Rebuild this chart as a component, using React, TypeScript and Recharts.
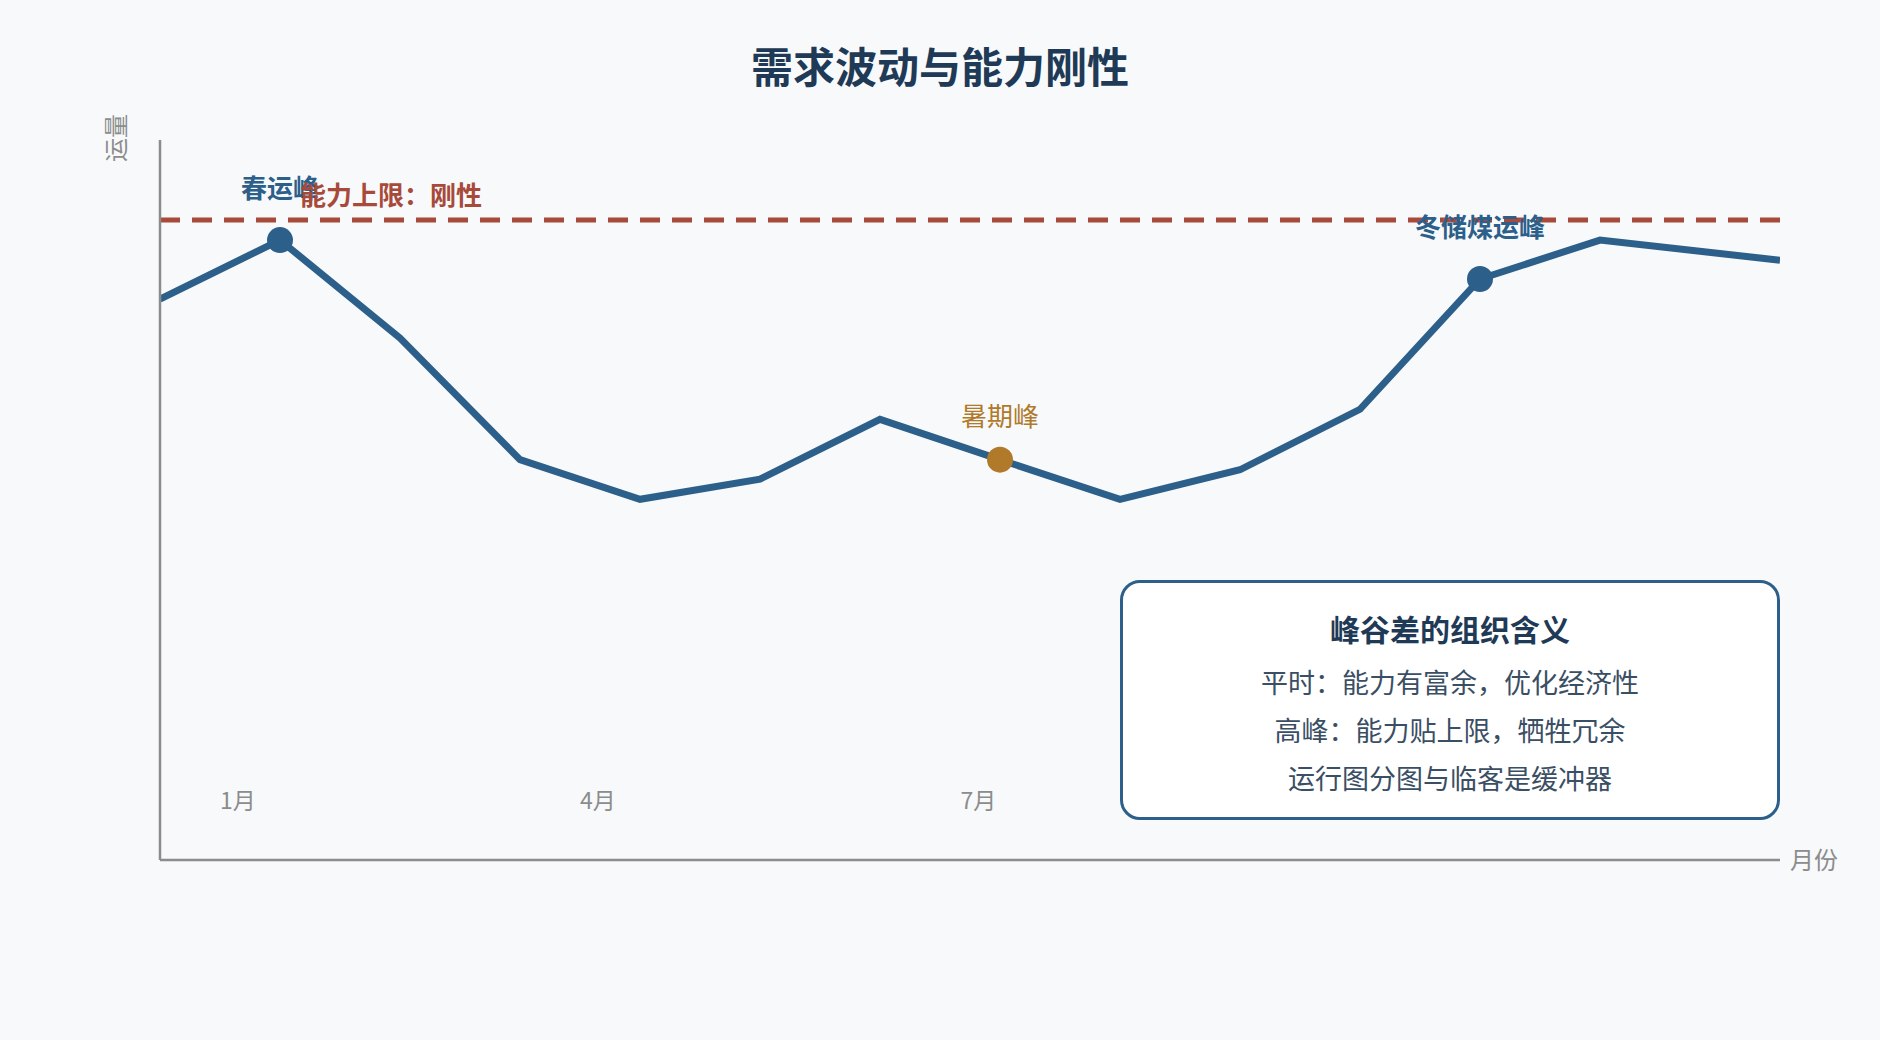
import React from 'react';
import { LineChart, Line, XAxis, YAxis, ReferenceLine } from 'recharts';

// ---- data ----
const monthPos = [0, 1, 2, 3, 4, 5, 6, 7, 8, 9, 10, 11, 12, 13.5];
const volume = [77.9, 86.1, 72.5, 55.6, 50.1, 52.9, 61.2, 55.6, 50.1, 54.2, 62.6, 80.7, 86.1, 83.3];
const capacityLimit = 88.9;
const capacityLabel = '能力上限：刚性';
const tickPositions = [0.65, 3.65, 6.82];
const tickLabels = ['1月', '4月', '7月'];
const peakIndex = [1, 7, 11];
const peakNames = ['春运峰', '暑期峰', '冬储煤运峰'];
const chartTitle = '需求波动与能力刚性';
const yAxisName = '运量';
const xAxisName = '月份';
const boxTitle = '峰谷差的组织含义';
const boxLines = ['平时：能力有富余，优化经济性', '高峰：能力贴上限，牺牲冗余', '运行图分图与临客是缓冲器'];

const data = monthPos.map((m, i) => ({ m, v: volume[i] }));

const FONT = '"Noto Sans CJK SC", "Noto Sans", sans-serif';
const BLUE = '#2c5f8a';
const RED = '#a84a3a';
const GOLD = '#b07a2a';
const AXIS = '#8c8c8c';

const peakStyle: Record<string, { color: string; dy: number; weight: number }> = {
  '春运峰': { color: BLUE, dy: -54, weight: 700 },
  '暑期峰': { color: GOLD, dy: -45, weight: 400 },
  '冬储煤运峰': { color: BLUE, dy: -53, weight: 700 },
};

const renderDot = (props: any) => {
  const { cx, cy, index } = props;
  const k = peakIndex.indexOf(index);
  if (k < 0) return <g key={`dot-${index}`} />;
  const name = peakNames[k];
  const st = peakStyle[name];
  return (
    <g key={`dot-${index}`}>
      <circle cx={cx} cy={cy} r={13} fill={st.color} />
      <text
        x={cx}
        y={cy + st.dy}
        textAnchor="middle"
        dominantBaseline="central"
        fontSize={26}
        fontWeight={st.weight}
        fill={st.color}
        fontFamily={FONT}
      >
        {name}
      </text>
    </g>
  );
};

const AXIS_Y = 860;

const renderTick = (props: any) => {
  const { x, payload } = props;
  const i = tickPositions.indexOf(payload.value);
  return (
    <text
      x={x}
      y={AXIS_Y - 61}
      textAnchor="middle"
      dominantBaseline="central"
      fontSize={23}
      fill={AXIS}
      fontFamily={FONT}
    >
      {i >= 0 ? tickLabels[i] : ''}
    </text>
  );
};

export default function App() {
  return (
    <div
      style={{
        position: 'absolute',
        left: 0,
        top: 0,
        width: 1880,
        height: 1040,
        background: '#f7f9fb',
        fontFamily: FONT,
        overflow: 'hidden',
      }}
    >
      <div
        style={{
          position: 'absolute',
          left: 0,
          width: 1880,
          top: 40,
          height: 50,
          lineHeight: '50px',
          textAlign: 'center',
          fontSize: 42,
          fontWeight: 700,
          color: '#1f3a56',
        }}
      >
        {chartTitle}
      </div>
      <div
        style={{
          position: 'absolute',
          left: 115,
          top: 138,
          transform: 'translate(-50%, -50%) rotate(-90deg)',
          fontSize: 24,
          color: AXIS,
          whiteSpace: 'nowrap',
          lineHeight: '30px',
        }}
      >
        {yAxisName}
      </div>
      <div style={{ position: 'absolute', left: 0, top: 0 }}>
        <LineChart
          width={1880}
          height={1040}
          data={data}
          margin={{ top: 140, right: 100, bottom: 150, left: 130 }}
        >
          <XAxis
            dataKey="m"
            type="number"
            domain={[0, 13.5]}
            ticks={tickPositions}
            tick={renderTick}
            tickLine={false}
            height={30}
            allowDataOverflow
            axisLine={{ stroke: AXIS, strokeWidth: 2.5 }}
            label={{ value: xAxisName, position: 'right', offset: 10, dy: -15, fill: AXIS, fontSize: 24, fontFamily: FONT }}
          />
          <YAxis
            type="number"
            domain={[0, 100]}
            tick={false}
            tickLine={false}
            width={30}
            axisLine={{ stroke: AXIS, strokeWidth: 2.5 }}
          />
          <ReferenceLine
            y={capacityLimit}
            stroke={RED}
            strokeWidth={5}
            strokeDasharray="20 12"
            label={{
              value: capacityLabel,
              position: 'insideBottomLeft',
              offset: 15,
              dx: 125,
              fill: RED,
              fontSize: 26,
              fontWeight: 700,
              fontFamily: FONT,
            }}
          />
          <Line
            type="linear"
            dataKey="v"
            stroke={BLUE}
            strokeWidth={7}
            dot={renderDot}
            activeDot={false}
            isAnimationActive={false}
          />
        </LineChart>
      </div>
      <div
        style={{
          position: 'absolute',
          left: 1120,
          top: 580,
          width: 660,
          height: 240,
          boxSizing: 'border-box',
          border: `3.5px solid ${BLUE}`,
          borderRadius: 20,
          background: '#ffffff',
        }}
      >
        <div
          style={{
            position: 'absolute',
            left: 0,
            right: 0,
            top: 48 - 3.5 - 20,
            height: 40,
            lineHeight: '40px',
            textAlign: 'center',
            fontSize: 30,
            fontWeight: 700,
            color: '#1f3a56',
          }}
        >
          {boxTitle}
        </div>
        {boxLines.map((t, i) => (
          <div
            key={t}
            style={{
              position: 'absolute',
              left: 0,
              right: 0,
              top: 102 + i * 48 - 3.5 - 20,
              height: 40,
              lineHeight: '40px',
              textAlign: 'center',
              fontSize: 27,
              color: '#3a4e64',
            }}
          >
            {t}
          </div>
        ))}
      </div>
    </div>
  );
}
